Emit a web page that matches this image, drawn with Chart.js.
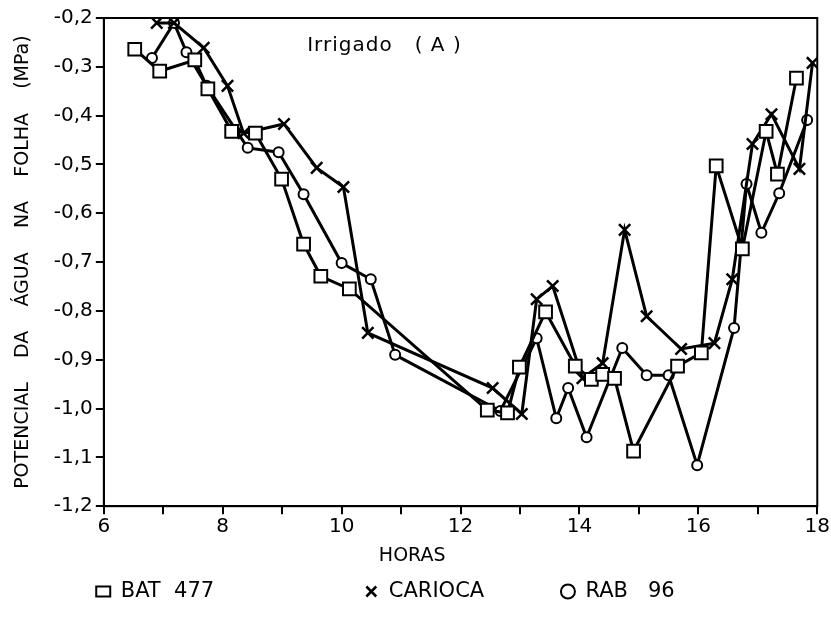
<!DOCTYPE html>
<html>
<head>
<meta charset="utf-8">
<script src="https://cdn.jsdelivr.net/npm/chart.js@4.4.1/dist/chart.umd.min.js"></script>
<style>
  html, body { margin: 0; padding: 0; background: #fff; }
</style>
</head>
<body>
<canvas id="grafico" width="831" height="619"></canvas>
<script>
// BAT 477 (quadrados)
const batHoras = [6.52, 6.94, 7.53, 7.75, 8.15, 8.55, 8.99, 9.36, 9.65, 10.13, 12.45, 12.79, 12.99, 13.43, 13.93, 14.2, 14.39, 14.59, 14.91, 15.65, 16.05, 16.3, 16.74, 17.14, 17.33, 17.65];
const batPot = [-0.264, -0.309, -0.286, -0.345, -0.432, -0.436, -0.53, -0.663, -0.729, -0.755, -1.003, -1.009, -0.915, -0.802, -0.913, -0.94, -0.93, -0.938, -1.087, -0.913, -0.886, -0.503, -0.673, -0.432, -0.52, -0.323];

// CARIOCA (x)
const cariocaHoras = [6.89, 7.18, 7.68, 8.08, 8.35, 9.03, 9.58, 10.03, 10.44, 12.54, 13.03, 13.28, 13.55, 14.05, 14.39, 14.76, 15.13, 15.71, 16.27, 16.57, 16.91, 17.23, 17.7, 17.92];
const cariocaPot = [-0.21, -0.21, -0.261, -0.339, -0.436, -0.417, -0.507, -0.546, -0.845, -0.958, -1.011, -0.776, -0.749, -0.938, -0.907, -0.634, -0.811, -0.878, -0.866, -0.735, -0.458, -0.397, -0.509, -0.292];

// RAB 96 (circulos)
const rabHoras = [6.81, 7.18, 7.39, 7.73, 8.42, 8.94, 9.36, 10.0, 10.49, 10.9, 12.67, 13.28, 13.61, 13.81, 14.12, 14.72, 15.13, 15.5, 15.98, 16.6, 16.81, 17.06, 17.36, 17.83];
const rabPot = [-0.282, -0.21, -0.27, -0.339, -0.466, -0.475, -0.561, -0.702, -0.735, -0.89, -1.005, -0.856, -1.02, -0.958, -1.059, -0.876, -0.932, -0.932, -1.116, -0.835, -0.54, -0.64, -0.559, -0.409];

const xTickLabels = ['6', '', '8', '', '10', '', '12', '', '14', '', '16', '', '18'];
const yTickLabels = ['-1,2', '-1,1', '-1,0', '-0,9', '-0,8', '-0,7', '-0,6', '-0,5', '-0,4', '-0,3', '-0,2'];

const fonte = "'DejaVu Sans', sans-serif";

function pontos(xs, ys) {
    return xs.map((h, i) => ({ x: h, y: ys[i] }));
}

// moldura e texto interno
const moldura = {
    id: 'moldura',
    afterDraw(chart) {
        const { ctx, chartArea, scales } = chart;
        ctx.save();
        ctx.strokeStyle = '#000';
        ctx.lineWidth = 2;
        ctx.strokeRect(chartArea.left, chartArea.top, chartArea.right - chartArea.left, chartArea.bottom - chartArea.top);
        ctx.fillStyle = '#000';
        ctx.font = "20px " + fonte;
        ctx.letterSpacing = '1px';
        ctx.textAlign = 'center';
        ctx.textBaseline = 'middle';
        ctx.fillText('Irrigado   ( A )', scales.x.getPixelForValue(10.72), scales.y.getPixelForValue(-0.257));
        ctx.restore();
    }
};

const estiloBase = {
    borderColor: '#000',
    pointBorderColor: '#000',
    pointBackgroundColor: '#fff',
    borderWidth: 3,
    pointBorderWidth: 2,
    tension: 0
};

new Chart(document.getElementById('grafico').getContext('2d'), {
    type: 'line',
    data: {
        datasets: [
            {
                ...estiloBase,
                label: 'BAT  477                     ',
                data: pontos(batHoras, batPot),
                pointStyle: 'rect',
                pointRadius: 9,
                pointHoverRadius: 9
            },
            {
                ...estiloBase,
                label: 'CARIOCA          ',
                data: pontos(cariocaHoras, cariocaPot),
                pointStyle: 'crossRot',
                pointRadius: 8,
                pointHoverRadius: 8,
                pointBorderWidth: 2.5
            },
            {
                ...estiloBase,
                label: 'RAB   96         ',
                data: pontos(rabHoras, rabPot),
                pointStyle: 'circle',
                pointRadius: 5,
                pointHoverRadius: 5
            }
        ]
    },
    options: {
        responsive: false,
        animation: false,
        layout: {
            padding: { left: 12, right: 12, top: 18, bottom: 7 }
        },
        plugins: {
            legend: {
                position: 'bottom',
                labels: {
                    usePointStyle: true,
                    pointStyleWidth: 14,
                    boxHeight: 10,
                    color: '#000',
                    padding: 10,
                    font: { family: fonte, size: 21 }
                }
            },
            tooltip: { enabled: false },
            title: { display: false }
        },
        scales: {
            x: {
                type: 'linear',
                min: 6,
                max: 18,
                ticks: {
                    stepSize: 1,
                    color: '#000',
                    padding: 1,
                    autoSkip: false,
                    maxRotation: 0,
                    font: { family: fonte, size: 20 },
                    callback: (v, i) => xTickLabels[i]
                },
                grid: {
                    drawOnChartArea: false,
                    drawTicks: true,
                    tickLength: 8,
                    color: '#000',
                    lineWidth: 2
                },
                border: { color: '#000', width: 2 },
                title: {
                    display: true,
                    text: 'HORAS                ',
                    color: '#000',
                    font: { family: fonte, size: 19 },
                    padding: { top: 4, bottom: 4 }
                }
            },
            y: {
                min: -1.2,
                max: -0.2,
                ticks: {
                    stepSize: 0.1,
                    color: '#000',
                    padding: 3,
                    autoSkip: false,
                    font: { family: fonte, size: 20 },
                    callback: (v, i) => yTickLabels[i]
                },
                grid: {
                    drawOnChartArea: false,
                    drawTicks: true,
                    tickLength: 8,
                    color: '#000',
                    lineWidth: 2
                },
                border: { color: '#000', width: 2 },
                title: {
                    display: true,
                    text: 'POTENCIAL    DA    ÁGUA    NA    FOLHA    (MPa)',
                    color: '#000',
                    font: { family: fonte, size: 19 },
                    padding: { top: 0, bottom: 16 }
                }
            }
        }
    },
    plugins: [moldura]
});
</script>
</body>
</html>
